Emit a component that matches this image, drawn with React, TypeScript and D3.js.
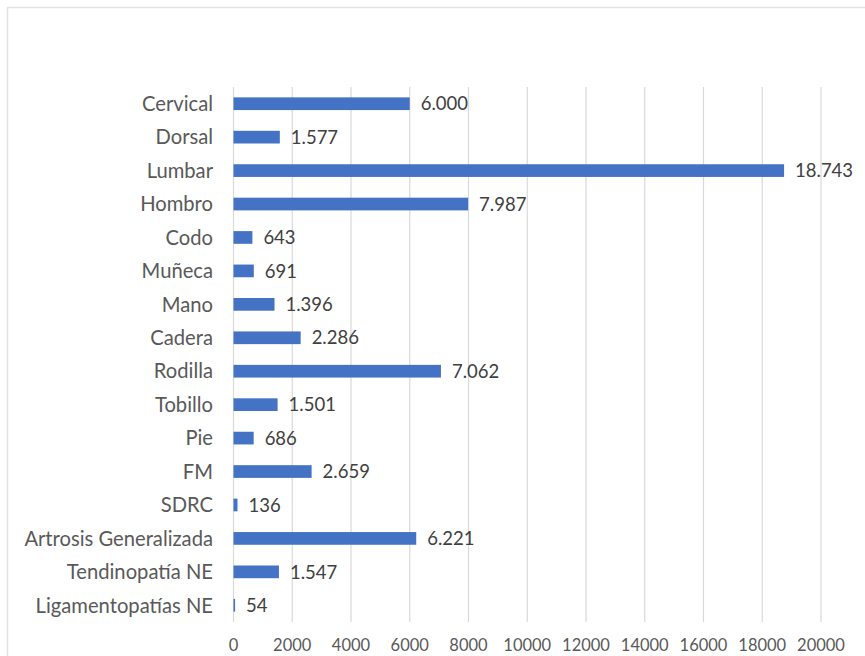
import React from "react";
import * as d3 from "d3";

const categories = [
  "Cervical", "Dorsal", "Lumbar", "Hombro", "Codo", "Muñeca", "Mano", "Cadera",
  "Rodilla", "Tobillo", "Pie", "FM", "SDRC", "Artrosis Generalizada",
  "Tendinopatía NE", "Ligamentopatías NE",
];
const values = [6000, 1577, 18743, 7987, 643, 691, 1396, 2286, 7062, 1501, 686, 2659, 136, 6221, 1547, 54];
const xTicks = [0, 2000, 4000, 6000, 8000, 10000, 12000, 14000, 16000, 18000, 20000];

const W = 865, H = 656;
const plot = { left: 233.5, right: 821, top: 87, bottom: 622 };
const FONT = "Lato, 'Open Sans', sans-serif";
const textColor = "#595959";

const locale = d3.formatLocale({ decimal: ",", thousands: ".", grouping: [3], currency: ["", ""] });
const fmt = locale.format(",d");

export default function App() {
  const x = d3.scaleLinear().domain([0, 20000]).range([plot.left, plot.right]);
  const y = d3.scaleBand<string>().domain(categories).range([plot.top, plot.bottom]).paddingInner(0.62).paddingOuter(0.31);
  return (
    <svg width={W} height={H} style={{ position: "absolute", left: 0, top: 0, background: "#fff" }}>
      <rect x={7.5} y={7.5} width={W + 10} height={H + 10} fill="none" stroke="#e3e3e3" strokeWidth={1.5} />
      {xTicks.map((t) => (
        <g key={t}>
          <line x1={x(t)} x2={x(t)} y1={plot.top} y2={plot.bottom} stroke="#d9d9d9" strokeWidth={1.2} />
          <text x={x(t)} y={651} textAnchor="middle" fontFamily={FONT} fontSize={16.5} fill={textColor}>{t}</text>
        </g>
      ))}
      {categories.map((c, i) => {
        const yy = y(c)!;
        const cy = yy + y.bandwidth() / 2;
        return (
          <g key={c}>
            <rect x={x(0)} y={yy} width={Math.max(1.5, x(values[i]) - x(0))} height={y.bandwidth()} fill="#4472C4" />
            <text x={213} y={cy} dy="0.36em" textAnchor="end" fontFamily={FONT} fontSize={20.2} fill={textColor}>{c}</text>
            <text x={x(values[i]) + 11} y={cy} dy="0.36em" textAnchor="start" fontFamily={FONT} fontSize={18.5} fill="#404040">{fmt(values[i])}</text>
          </g>
        );
      })}
    </svg>
  );
}
